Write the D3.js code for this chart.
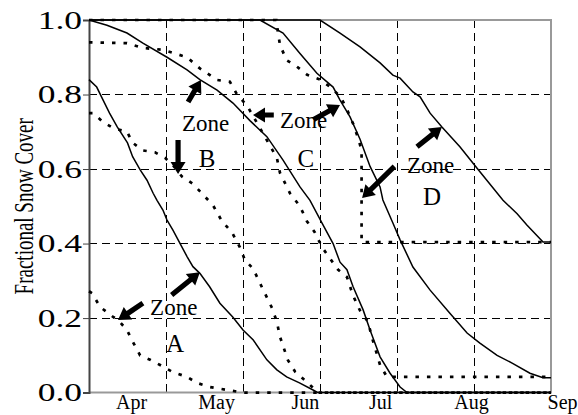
<!DOCTYPE html>
<html>
<head>
<meta charset="utf-8">
<script src="https://cdn.jsdelivr.net/npm/d3@7"></script>
<style>
  body { margin: 0; background: #fff; }
  text { font-family: "Liberation Serif", "Times New Roman", serif; }
</style>
</head>
<body>
<div id="chart"></div>
<script>
// x is days from the left edge of the chart (one grid cell = 30 days)
const monthLabels = ['Apr', 'May', 'Jun', 'Jul', 'Aug', 'Sep'];
const monthPos = [16.4, 49.5, 84.1, 113.4, 148.8, 184.3];
const yTicks = [0, 0.2, 0.4, 0.6, 0.8, 1.0];
const xGrid = [30, 60, 90, 120, 150];
const yGrid = [0.2, 0.4, 0.6, 0.8];

// solid curves
const solidA = [[0,0.84],[3,0.82],[5.5,0.785],[8,0.75],[11,0.713],[15,0.67],[17,0.633],[20,0.597],[22.6,0.57],[25,0.535],[26.5,0.516],[28.8,0.49],[30.4,0.463],[32.7,0.436],[35.5,0.4],[38.2,0.365],[40.5,0.338],[43.2,0.32],[47,0.284],[51,0.24],[56,0.203],[60,0.168],[64,0.141],[69.3,0.088],[73.2,0.061],[77,0.042],[82,0.026],[87.3,0.007],[89.2,0],[180,0]];
const solidB = [[0,1.0],[7,0.986],[14.8,0.965],[21,0.938],[30.4,0.9],[38.2,0.866],[43.2,0.84],[49.9,0.812],[56.1,0.777],[62.7,0.73],[69.3,0.687],[75.6,0.624],[82.2,0.552],[86.1,0.516],[90.8,0.455],[95.1,0.4],[97.8,0.35],[100.5,0.33],[102.9,0.284],[106.8,0.222],[109.5,0.168],[113.4,0.096],[117.3,0.052],[121.2,0.015],[123.9,0],[180,0]];
const solidC = [[0,1.0],[66.6,1.0],[75.6,0.965],[82.2,0.91],[88.8,0.857],[95.1,0.82],[97.8,0.785],[101.7,0.74],[105.6,0.68],[109.5,0.607],[113.4,0.552],[114.5,0.517],[118.4,0.455],[121.2,0.41],[126.2,0.337],[132.9,0.275],[140.6,0.213],[147.3,0.16],[152.3,0.133],[159,0.1],[165.2,0.078],[171.8,0.052],[176.9,0.04],[180,0.04]];
const solidD = [[0,1.0],[90,1.0],[97.8,0.965],[105.6,0.928],[113.4,0.885],[118.4,0.852],[121.2,0.844],[126.2,0.807],[129,0.794],[132.9,0.75],[137.5,0.713],[144.5,0.66],[151.2,0.602],[161.3,0.516],[166.8,0.48],[170.6,0.45],[176.9,0.404],[180,0.404]];

// dotted curves
const dotA = [[0,0.272],[1.2,0.267],[4.3,0.23],[9.4,0.203],[11.3,0.195],[14.8,0.168],[17.1,0.136],[19.9,0.1],[23.8,0.088],[27.7,0.074],[32.7,0.055],[38.2,0.042],[42.1,0.026],[47.1,0.015],[60,0],[180,0]];
const dotB = [[0,0.75],[1.6,0.75],[5.5,0.726],[9.4,0.71],[14.8,0.7],[17.1,0.67],[21,0.65],[25.7,0.645],[29.6,0.63],[32.7,0.61],[36.2,0.58],[40.5,0.56],[48.3,0.503],[51.8,0.46],[55.7,0.43],[58.8,0.39],[60.8,0.355],[63.9,0.333],[66.6,0.294],[71.3,0.227],[73.2,0.19],[74.4,0.15],[77.5,0.087],[80.3,0.056],[85.3,0.026],[89.2,0],[180,0]];
const dotC = [[0,0.94],[14.8,0.938],[21,0.925],[28.8,0.92],[38.2,0.9],[43.2,0.87],[49.9,0.839],[54.9,0.834],[57.7,0.8],[61.6,0.77],[66.6,0.71],[73.2,0.63],[74.4,0.59],[78.3,0.535],[82.2,0.5],[84.9,0.46],[88,0.43],[90.8,0.39],[93.9,0.36],[97,0.33],[100.5,0.31],[102.9,0.26],[105.6,0.22],[108.7,0.19],[110.3,0.147],[113.4,0.074],[116.1,0.042],[180,0.042]];
const dotD = [[0,1.0],[73,1.0],[73.5,0.973],[74.4,0.933],[77,0.892],[81,0.875],[85,0.853],[90,0.84],[94,0.82],[98,0.794],[100.5,0.76],[103,0.72],[105,0.68],[106.2,0.65],[106.2,0.404],[180,0.404]];

// arrows: [tailX, tailY, tipX, tipY]
const arrows = [
  [38.6, 0.78, 43.6, 0.839],
  [34.7, 0.678, 34.7, 0.587],
  [32.2, 0.262, 43.2, 0.323],
  [21, 0.24, 11.3, 0.195],
  [72, 0.745, 63.9, 0.745],
  [87.5, 0.733, 97.8, 0.772],
  [119, 0.607, 106.4, 0.522],
  [127.8, 0.66, 137.5, 0.713]
];

// labels
const zoneWords = [[36.2, 0.702], [23.8, 0.208], [74.4, 0.71], [123.9, 0.589]];
const zoneLetters = [['B', 46, 0.605], ['A', 33.5, 0.109], ['C', 84.5, 0.605], ['D', 133.6, 0.504]];

const dims = {
  width: 578,
  height: 415,
  left: 89,
  right: 551,
  top: 20,
  bottom: 392.6
};

const svg = d3.select('#chart')
  .append('svg')
  .attr('width', dims.width)
  .attr('height', dims.height);

svg.append('rect').attr('width', dims.width).attr('height', dims.height).attr('fill', '#fff');

const x = d3.scaleLinear().domain([0, 180]).range([dims.left, dims.right]);
const y = d3.scaleLinear().domain([0, 1]).range([dims.bottom, dims.top]);

// grid
svg.append('g')
  .attr('shape-rendering', 'crispEdges')
  .selectAll('line')
  .data(yGrid)
  .join('line')
  .attr('x1', dims.left).attr('x2', dims.right)
  .attr('y1', d => y(d)).attr('y2', d => y(d))
  .attr('stroke', '#000').attr('stroke-width', 1)
  .attr('stroke-dasharray', '8,5');

svg.append('g')
  .attr('shape-rendering', 'crispEdges')
  .selectAll('line')
  .data(xGrid)
  .join('line')
  .attr('x1', d => x(d)).attr('x2', d => x(d))
  .attr('y1', dims.top).attr('y2', dims.bottom)
  .attr('stroke', '#000').attr('stroke-width', 1)
  .attr('stroke-dasharray', '8,5');

// frame
svg.append('path')
  .attr('d', `M${dims.left},${dims.top}H${dims.right}V${dims.bottom}H${dims.left}`)
  .attr('fill', 'none')
  .attr('stroke', '#999')
  .attr('stroke-width', 2);

// axes
const yAxis = d3.axisLeft(y)
  .tickValues(yTicks)
  .tickFormat(d3.format('.1f'))
  .tickSize(6)
  .tickPadding(2);

const yAxisGroup = svg.append('g')
  .attr('transform', `translate(${dims.left},0)`)
  .call(yAxis);
yAxisGroup.select('.domain').attr('stroke', '#444').attr('stroke-width', 2);
yAxisGroup.selectAll('.tick line').attr('stroke', '#444');
// the y labels in the source are drawn wide, so stretch them sideways
yAxisGroup.selectAll('text')
  .attr('font-size', 25)
  .attr('fill', '#000')
  .attr('x', -7 / 1.42)
  .attr('transform', 'scale(1.42,1)');

const xAxis = d3.axisBottom(x)
  .tickValues(monthPos)
  .tickFormat((d, i) => monthLabels[i])
  .tickSize(0)
  .tickPadding(2.2);

const xAxisGroup = svg.append('g')
  .attr('transform', `translate(0,${dims.bottom})`)
  .call(xAxis);
xAxisGroup.select('.domain').remove();
xAxisGroup.selectAll('text')
  .attr('font-size', 20)
  .attr('fill', '#000');

svg.append('text')
  .attr('transform', `translate(33,${(dims.top + dims.bottom) / 2}) scale(1.45,1) rotate(-90)`)
  .attr('text-anchor', 'middle')
  .attr('font-size', 19)
  .text('Fractional Snow Cover');

// curves
const lineGenerator = d3.line()
  .x(d => x(d[0]))
  .y(d => y(d[1]));

[dotA, dotB, dotC, dotD].forEach(series => {
  svg.append('path')
    .datum(series)
    .attr('d', lineGenerator)
    .attr('fill', 'none')
    .attr('stroke', '#000')
    .attr('stroke-width', 2.7)
    .attr('stroke-dasharray', '3.5,8');
});

[solidA, solidB, solidC, solidD].forEach(series => {
  svg.append('path')
    .datum(series)
    .attr('d', lineGenerator)
    .attr('fill', 'none')
    .attr('stroke', '#000')
    .attr('stroke-width', 1.5);
});

// block arrows
function arrowPoints(a) {
  const x0 = x(a[0]), y0 = y(a[1]), x1 = x(a[2]), y1 = y(a[3]);
  const len = Math.hypot(x1 - x0, y1 - y0);
  const ux = (x1 - x0) / len, uy = (y1 - y0) / len;
  const px = -uy, py = ux;
  const headLen = 12, headW = 7.5, shaftW = 2.6;
  const bx = x1 - ux * headLen, by = y1 - uy * headLen;
  const pts = [
    [x0 + px * shaftW, y0 + py * shaftW],
    [bx + px * shaftW, by + py * shaftW],
    [bx + px * headW, by + py * headW],
    [x1, y1],
    [bx - px * headW, by - py * headW],
    [bx - px * shaftW, by - py * shaftW],
    [x0 - px * shaftW, y0 - py * shaftW]
  ];
  return pts.map(p => p.join(',')).join(' ');
}

svg.append('g')
  .selectAll('polygon')
  .data(arrows)
  .join('polygon')
  .attr('points', arrowPoints)
  .attr('fill', '#000');

// zone labels
svg.append('g')
  .selectAll('text')
  .data(zoneWords)
  .join('text')
  .attr('x', d => x(d[0]))
  .attr('y', d => y(d[1]))
  .attr('font-size', 23)
  .text('Zone');

svg.append('g')
  .selectAll('text')
  .data(zoneLetters)
  .join('text')
  .attr('x', d => x(d[1]))
  .attr('y', d => y(d[2]))
  .attr('text-anchor', 'middle')
  .attr('font-size', 25)
  .text(d => d[0]);
</script>
</body>
</html>
